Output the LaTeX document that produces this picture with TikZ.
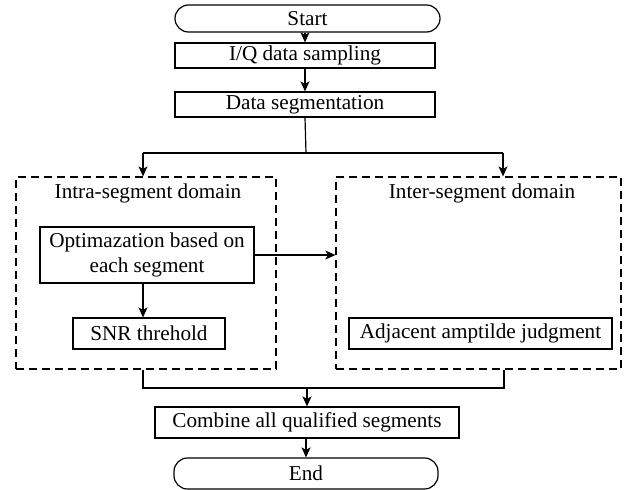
\documentclass[tikz,border=0pt]{standalone}
\usepackage{fontspec}
\setmainfont{Liberation Serif}
\usetikzlibrary{arrows.meta,calc}
\begin{document}
\begin{tikzpicture}[x=1pt,y=-1pt,
  every node/.style={font=\fontsize{21.2}{25}\selectfont, inner sep=0pt},
  proc/.style={draw, line width=1.2pt, rectangle, align=center},
  term/.style={draw, line width=1.2pt, rectangle, rounded corners=13.5pt},
  dombox/.style={draw, line width=1.2pt, dash pattern=on 8pt off 5pt, rectangle},
  lbl/.style={anchor=center},
  arr/.style={line width=1.2pt, -{Stealth[length=10pt,width=9pt,inset=2.5pt]}},
  ln/.style={line width=1.2pt}]
\useasboundingbox (0,0) rectangle (632,490);
% terminals and process boxes
\node[term, minimum width=265pt, minimum height=27pt] (start) at (307.5,18.5) {Start};
\node[proc, minimum width=260pt, minimum height=25pt] (iq) at (305,55.5) {I/Q data sampling};
\node[proc, minimum width=260pt, minimum height=25pt] (seg) at (305,104.5) {Data segmentation};
% domains
\node[dombox, minimum width=260pt, minimum height=192pt] (L) at (146,273) {};
\node[dombox, minimum width=285pt, minimum height=192pt] (R) at (478.5,273) {};
\node[lbl] (Llbl) at (148,193) {Intra-segment domain};
\node[lbl] (Rlbl) at (482,193) {Inter-segment domain};
\node[proc, minimum width=214pt, minimum height=56pt] (opt) at (147,255) {Optimazation based on\\each segment};
\node[proc, minimum width=152pt, minimum height=31pt] (snr) at (149,333.5) {SNR threhold};
\node[proc, minimum width=263pt, minimum height=31pt] (adj) at (480.5,333.5) {Adjacent amptilde judgment};
\node[proc, minimum width=304pt, minimum height=31pt] (comb) at (307,422.5) {Combine all qualified segments};
\node[term, minimum width=264pt, minimum height=31pt] (end) at (306,473.5) {End};
% connectors
\coordinate (fork) at (306,153);
\coordinate (fl) at (143,153);
\coordinate (fr) at (503,153);
\coordinate (ml) at (143,388);
\coordinate (mr) at (504,388);
\coordinate (mm) at (307,388);
\draw[arr] (start.south -| iq) -- (iq.north);
\draw[arr] (iq.south) -- (seg.north);
\draw[ln] (seg.south) -- (fork);
\draw[ln] (fl) -- (fr);
\draw[arr] (fl) -- (fl |- L.north);
\draw[arr] (fr) -- (fr |- R.north);
\draw[arr] (opt.east) -- (opt.east -| R.west);
\draw[arr] (opt.south -| fl) -- (snr.north -| fl);
\draw[ln] (L.south -| ml) -- (ml) -- (mr) -- (R.south -| mr);
\draw[arr] (mm) -- (comb.north -| mm);
\draw[arr] (comb.south -| end) -- (end.north);
\end{tikzpicture}
\end{document}
